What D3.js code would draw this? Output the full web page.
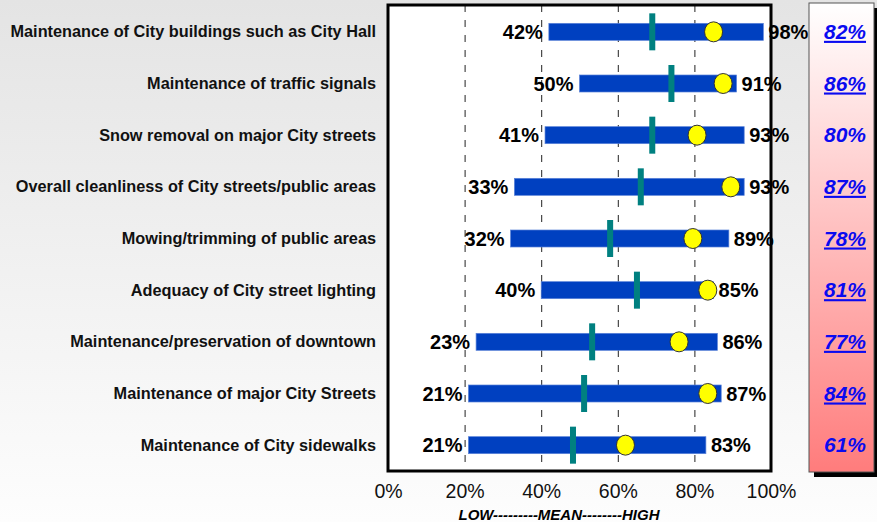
<!DOCTYPE html>
<html>
<head>
<meta charset="utf-8">
<script src="https://cdn.jsdelivr.net/npm/d3@7"></script>
<style>
  body { margin: 0; }
  svg { display: block; font-family: Arial, "Liberation Sans", sans-serif; }
</style>
</head>
<body>
<svg id="canvas"></svg>
<script>
let categories = [
  "Maintenance of City buildings such as City Hall",
  "Maintenance of traffic signals",
  "Snow removal on major City streets",
  "Overall cleanliness of City streets/public areas",
  "Mowing/trimming of public areas",
  "Adequacy of City street lighting",
  "Maintenance/preservation of downtown",
  "Maintenance of major City Streets",
  "Maintenance of City sidewalks"
]
let lows = [42, 50, 41, 33, 32, 40, 23, 21, 21]
let highs = [98, 91, 93, 93, 89, 85, 86, 87, 83]
let means = [69, 74, 69, 66, 58, 65, 53.3, 51.2, 48.3]
let cityScores = [85, 87.5, 80.7, 89.5, 79.6, 83.5, 76, 83.5, 62]
let rightValues = ["82%", "86%", "80%", "87%", "78%", "81%", "77%", "84%", "61%"]
let rightUnderline = [true, true, false, true, true, true, true, true, false]
let xTicks = [0, 20, 40, 60, 80, 100]

let width = 877
let height = 522
let plotLeft = 388
let plotRight = 771
let plotTop = 5
let plotBottom = 471

let svg = d3.select("#canvas")
    .attr("width", width)
    .attr("height", height)

let defs = svg.append("defs")
let bg = defs.append("linearGradient").attr("id", "bg")
    .attr("x1", 0).attr("y1", 0).attr("x2", 0).attr("y2", 1)
bg.append("stop").attr("offset", "0%").attr("stop-color", "#e4e4e4")
bg.append("stop").attr("offset", "100%").attr("stop-color", "#fdfdfd")

let pink = defs.append("linearGradient").attr("id", "pink")
    .attr("x1", 0).attr("y1", 0).attr("x2", 0).attr("y2", 1)
pink.append("stop").attr("offset", "0%").attr("stop-color", "#ffffff")
pink.append("stop").attr("offset", "100%").attr("stop-color", "#ff7c7c")

svg.append("rect")
    .attr("width", width)
    .attr("height", height)
    .attr("fill", "url(#bg)")

let xScale = d3.scaleLinear()
    .domain([0, 100])
    .range([plotLeft, plotRight])

let yScale = d3.scaleBand()
    .domain(categories)
    .range([6, 471])

let yc = (d) => yScale(d) + yScale.bandwidth() / 2

// plot area
svg.append("rect")
    .attr("x", plotLeft)
    .attr("y", plotTop)
    .attr("width", plotRight - plotLeft)
    .attr("height", plotBottom - plotTop)
    .attr("fill", "white")

// dashed grid lines
svg.append("g")
    .selectAll("line")
    .data([20, 40, 60, 80])
    .enter()
    .append("line")
    .attr("x1", (d) => xScale(d) + 0.5)
    .attr("x2", (d) => xScale(d) + 0.5)
    .attr("y1", plotTop)
    .attr("y2", plotBottom)
    .attr("stroke", "#222")
    .attr("stroke-width", 1)
    .attr("stroke-dasharray", "7,8")

let rows = categories.map((c, i) => {
    return {name: c, low: lows[i], high: highs[i], mean: means[i], score: cityScores[i]}
})

// range bars
svg.append("g")
    .selectAll("rect")
    .data(rows)
    .enter()
    .append("rect")
    .attr("x", (d) => xScale(d.low))
    .attr("y", (d) => yc(d.name) - 8.5)
    .attr("width", (d) => xScale(d.high) - xScale(d.low))
    .attr("height", 17)
    .attr("fill", "#0040c0")
    .attr("stroke", "#5a82d8")
    .attr("stroke-width", 0.7)

// mean markers
svg.append("g")
    .selectAll("rect")
    .data(rows)
    .enter()
    .append("rect")
    .attr("x", (d) => xScale(d.mean) - 3)
    .attr("y", (d) => yc(d.name) - 18.5)
    .attr("width", 6)
    .attr("height", 37)
    .attr("fill", "#008080")

// city score dots
svg.append("g")
    .selectAll("ellipse")
    .data(rows)
    .enter()
    .append("ellipse")
    .attr("cx", (d) => xScale(d.score))
    .attr("cy", (d) => yc(d.name))
    .attr("rx", 9)
    .attr("ry", 10)
    .attr("fill", "#ffff00")
    .attr("stroke", "#333")
    .attr("stroke-width", 1)

// plot border
svg.append("rect")
    .attr("x", plotLeft)
    .attr("y", plotTop)
    .attr("width", plotRight - plotLeft)
    .attr("height", plotBottom - plotTop)
    .attr("fill", "none")
    .attr("stroke", "black")
    .attr("stroke-width", 3)

// low / high labels
svg.append("g")
    .selectAll("text")
    .data(rows)
    .enter()
    .append("text")
    .attr("x", (d) => xScale(d.low) - 6)
    .attr("y", (d) => yc(d.name) + 7)
    .attr("text-anchor", "end")
    .attr("font-size", 20)
    .attr("font-weight", "bold")
    .text((d) => d.low + "%")

svg.append("g")
    .selectAll("text")
    .data(rows)
    .enter()
    .append("text")
    .attr("x", (d) => xScale(d.high) + 5)
    .attr("y", (d) => yc(d.name) + 7)
    .attr("font-size", 20)
    .attr("font-weight", "bold")
    .text((d) => d.high + "%")

// category labels
svg.append("g")
    .selectAll("text")
    .data(categories)
    .enter()
    .append("text")
    .attr("x", 376)
    .attr("y", (d) => yc(d) + 5.5)
    .attr("text-anchor", "end")
    .attr("font-size", 16.3)
    .attr("font-weight", "bold")
    .attr("fill", "#111")
    .text((d) => d)

// x axis
let xAxis = d3.axisBottom(xScale)
    .tickValues(xTicks)
    .tickFormat((d) => d + "%")
    .tickSize(0)
    .tickPadding(13)

let axisG = svg.append("g")
    .attr("transform", "translate(0," + plotBottom + ")")
    .call(xAxis)
axisG.select(".domain").remove()
axisG.selectAll("text")
    .attr("font-size", 19.5)
    .attr("font-family", "Arial, 'Liberation Sans', sans-serif")
    .attr("fill", "#111")

svg.append("text")
    .attr("x", 559)
    .attr("y", 520)
    .attr("text-anchor", "middle")
    .attr("font-size", 15)
    .attr("font-weight", "bold")
    .attr("font-style", "italic")
    .text("LOW---------MEAN--------HIGH")

// right panel
svg.append("rect")
    .attr("x", 814)
    .attr("y", 8)
    .attr("width", 63)
    .attr("height", 469)
    .attr("fill", "black")
svg.append("rect")
    .attr("x", 809)
    .attr("y", 3)
    .attr("width", 65)
    .attr("height", 469)
    .attr("fill", "url(#pink)")
    .attr("stroke", "#555")
    .attr("stroke-width", 1)

svg.append("g")
    .selectAll("text")
    .data(rightValues)
    .enter()
    .append("text")
    .attr("x", 845)
    .attr("y", (d, i) => yc(categories[i]) + 7)
    .attr("text-anchor", "middle")
    .attr("font-size", 21)
    .attr("font-weight", "bold")
    .attr("font-style", "italic")
    .attr("fill", "#0a0af0")
    .attr("text-decoration", (d, i) => rightUnderline[i] ? "underline" : "none")
    .text((d) => d)
</script>
</body>
</html>
